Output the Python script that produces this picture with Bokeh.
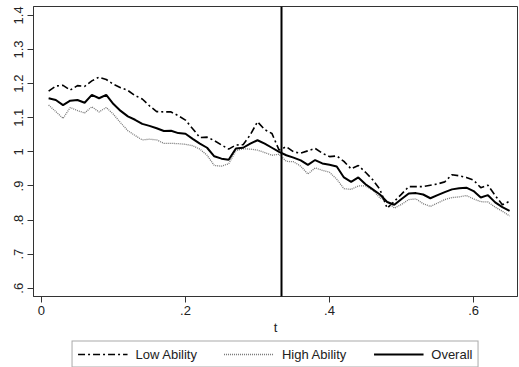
import math
from bokeh.plotting import figure
from bokeh.layouts import column
from bokeh.models import (Range1d, FixedTicker, CustomJSTickFormatter, Span,
                          Legend, LegendItem)
from bokeh.embed import file_html
from bokeh.resources import INLINE

t = [0.01, 0.02, 0.03, 0.04, 0.05, 0.06, 0.07, 0.08, 0.09, 0.10,
     0.11, 0.12, 0.13, 0.14, 0.15, 0.16, 0.17, 0.18, 0.19, 0.20,
     0.21, 0.22, 0.23, 0.24, 0.25, 0.26, 0.27, 0.28, 0.29, 0.30,
     0.31, 0.32, 0.33, 0.34, 0.35, 0.36, 0.37, 0.38, 0.39, 0.40,
     0.41, 0.42, 0.43, 0.44, 0.45, 0.46, 0.47, 0.48, 0.49, 0.50,
     0.51, 0.52, 0.53, 0.54, 0.55, 0.56, 0.57, 0.58, 0.59, 0.60,
     0.61, 0.62, 0.63, 0.64, 0.65]

low_ability = [1.178, 1.193, 1.195, 1.181, 1.194, 1.192, 1.208, 1.219, 1.212, 1.198,
               1.188, 1.180, 1.165, 1.155, 1.135, 1.118, 1.117, 1.117, 1.106, 1.093,
               1.068, 1.042, 1.043, 1.033, 1.020, 1.008, 1.020, 1.021, 1.050, 1.088,
               1.065, 1.054, 1.005, 1.015, 1.000, 0.996, 1.003, 1.010, 0.996, 0.986,
               0.988, 0.972, 0.950, 0.960, 0.940, 0.918, 0.890, 0.835, 0.855, 0.876,
               0.898, 0.898, 0.898, 0.902, 0.906, 0.912, 0.933, 0.930, 0.925, 0.917,
               0.895, 0.902, 0.872, 0.845, 0.855]

high_ability = [1.137, 1.118, 1.098, 1.130, 1.121, 1.114, 1.132, 1.117, 1.130, 1.110,
                1.085, 1.062, 1.048, 1.035, 1.037, 1.035, 1.025, 1.025, 1.024, 1.022,
                1.018, 1.008, 0.990, 0.960, 0.958, 0.965, 1.003, 1.009, 1.008, 1.005,
                0.998, 0.990, 0.993, 0.972, 0.971, 0.958, 0.935, 0.953, 0.946, 0.940,
                0.920, 0.892, 0.890, 0.900, 0.900, 0.888, 0.865, 0.855, 0.835, 0.846,
                0.860, 0.862, 0.848, 0.840, 0.850, 0.860, 0.866, 0.868, 0.872, 0.862,
                0.854, 0.853, 0.838, 0.826, 0.812]

overall = [1.157, 1.152, 1.137, 1.150, 1.152, 1.144, 1.167, 1.157, 1.167, 1.140,
           1.120, 1.104, 1.094, 1.082, 1.076, 1.069, 1.061, 1.062, 1.055, 1.053,
           1.038, 1.024, 1.012, 0.987, 0.980, 0.977, 1.010, 1.012, 1.024, 1.034,
           1.024, 1.012, 1.000, 0.990, 0.983, 0.975, 0.962, 0.976, 0.966, 0.962,
           0.957, 0.925, 0.912, 0.925, 0.905, 0.890, 0.875, 0.853, 0.845, 0.862,
           0.878, 0.879, 0.875, 0.864, 0.873, 0.882, 0.890, 0.893, 0.895, 0.885,
           0.866, 0.873, 0.852, 0.838, 0.827]

cutoff = 1.0 / 3.0
x_ticks = [0, 0.2, 0.4, 0.6]
y_ticks = [0.6, 0.7, 0.8, 0.9, 1.0, 1.1, 1.2, 1.3, 1.4]
labels = ["Low Ability", "High Ability", "Overall"]

FONT = "Liberation Sans"
TXT = "#222222"

LOW_STYLE = dict(line_color="black", line_width=1.6, line_dash="7 3 2 3")
HIGH_STYLE = dict(line_color="#777777", line_width=1.3, line_dash="1 1")
ALL_STYLE = dict(line_color="black", line_width=2)

p = figure(width=519, height=340, output_backend="svg", toolbar_location=None,
           x_range=Range1d(-0.011, 0.661), y_range=Range1d(0.576, 1.426),
           min_border_left=33, min_border_right=2, min_border_top=6,
           min_border_bottom=44, background_fill_color="white",
           border_fill_color="white")
p.outline_line_color = "#333333"
p.outline_line_width = 1
p.xgrid.visible = False
p.ygrid.visible = False

fmt = CustomJSTickFormatter(code="""
var s = tick.toFixed(1).replace(/\\.0$/, '').replace(/^0\\./, '.');
return s;
""")

for ax in (p.xaxis[0], p.yaxis[0]):
    ax.formatter = fmt
    ax.major_tick_out = 6
    ax.major_tick_in = 0
    ax.minor_tick_out = 0
    ax.minor_tick_in = 0
    ax.axis_line_color = "#333333"
    ax.major_tick_line_color = "#333333"
    ax.major_label_text_font = FONT
    ax.major_label_text_font_size = "13px"
    ax.major_label_text_color = TXT
    ax.axis_label_text_font = FONT
    ax.axis_label_text_font_size = "13px"
    ax.axis_label_text_font_style = "normal"
    ax.axis_label_text_color = TXT

p.xaxis[0].ticker = FixedTicker(ticks=x_ticks)
p.yaxis[0].ticker = FixedTicker(ticks=y_ticks)
p.xaxis[0].axis_label = "t"
p.xaxis[0].axis_label_standoff = 2
p.xaxis[0].major_label_standoff = 3
p.yaxis[0].major_label_orientation = "vertical"
p.yaxis[0].major_label_standoff = 4

p.line(t, low_ability, **LOW_STYLE)
p.line(t, high_ability, **HIGH_STYLE)
p.line(t, overall, **ALL_STYLE)

p.add_layout(Span(location=cutoff, dimension="height", line_color="black",
                  line_width=2))

# legend strip below the chart (frame aligned with the chart's frame)
q = figure(width=519, height=27, output_backend="svg", toolbar_location=None,
           x_range=Range1d(0, 1), y_range=Range1d(0, 1),
           x_axis_type=None, y_axis_type=None,
           min_border_left=33, min_border_right=2, min_border_top=0,
           min_border_bottom=0, background_fill_color="white",
           border_fill_color="white")
q.outline_line_color = None
q.xgrid.visible = False
q.ygrid.visible = False
l_low = q.line([5, 6], [5, 6], **LOW_STYLE)
l_high = q.line([5, 6], [5, 6], **HIGH_STYLE)
l_all = q.line([5, 6], [5, 6], **ALL_STYLE)

legend = Legend(items=[LegendItem(label=labels[0], renderers=[l_low]),
                       LegendItem(label=labels[1], renderers=[l_high]),
                       LegendItem(label=labels[2], renderers=[l_all])],
                orientation="horizontal", location="center",
                glyph_width=50, glyph_height=15, label_height=15,
                label_standoff=8, spacing=27, padding=5, margin=0,
                label_text_font=FONT, label_text_font_size="13px",
                label_text_color=TXT, border_line_color="#555555",
                border_line_width=1, background_fill_alpha=1)
q.add_layout(legend, "center")

layout = column(p, q, spacing=0)
open("out.html", "w").write(file_html(layout, INLINE))
